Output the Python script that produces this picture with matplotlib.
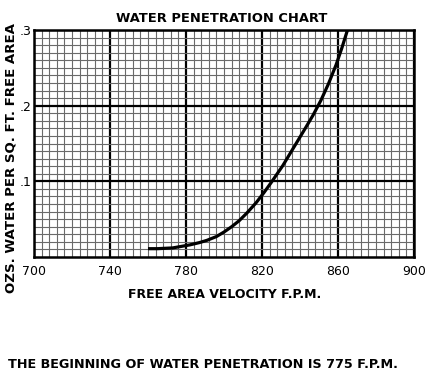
import matplotlib
matplotlib.use("Agg")
import matplotlib.pyplot as plt
import numpy as np

# Data
velocity = [760, 765, 773, 782, 787, 791, 796, 800, 804, 808, 812, 817, 821, 825, 831, 837,
            843, 847, 851, 855, 859, 862, 865]
water = [0.011, 0.011, 0.012, 0.016, 0.019, 0.022, 0.027, 0.033, 0.040, 0.048, 0.058, 0.072,
         0.085, 0.099, 0.121, 0.146, 0.171, 0.188, 0.207, 0.229, 0.254, 0.276, 0.300]

x_ticks = [700, 740, 780, 820, 860, 900]
x_tick_labels = ["700", "740", "780", "820", "860", "900"]
y_ticks = [0.1, 0.2, 0.3]
y_tick_labels = [".1", ".2", ".3"]

title = "WATER PENETRATION CHART"
xlabel = "FREE AREA VELOCITY F.P.M."
ylabel = "OZS. WATER PER SQ. FT. FREE AREA"
note = "THE BEGINNING OF WATER PENETRATION IS 775 F.P.M."

W, H = 433, 375
fig = plt.figure(figsize=(W / 100, H / 100), dpi=100)
ax = fig.add_axes([34 / W, (H - 257) / H, 380 / W, 227 / H])

ax.set_xlim(700, 900)
ax.set_ylim(0, 0.3)

# minor grid
ax.set_xticks(np.arange(700, 901, 4), minor=True)
ax.set_yticks(np.arange(0, 0.3001, 0.01), minor=True)
ax.grid(which="minor", color="#6a6a6a", linewidth=0.8)
ax.grid(which="major", color="black", linewidth=1.6)
ax.set_axisbelow(True)

ax.set_xticks(x_ticks)
ax.set_xticklabels(x_tick_labels)
ax.set_yticks(y_ticks)
ax.set_yticklabels(y_tick_labels)
ax.tick_params(which="both", length=0, labelsize=9, pad=6)
ax.tick_params(axis="y", pad=2)

for s in ax.spines.values():
    s.set_linewidth(1.8)
    s.set_color("black")

ax.plot(velocity, water, color="black", linewidth=2.3, solid_capstyle="butt",
        solid_joinstyle="round", zorder=5)

fs = dict(family="DejaVu Sans", weight="heavy")
fig.text(222 / W, 1 - 18 / H, title, ha="center", va="center", fontsize=9.4, **fs)
fig.text(225 / W, 1 - 294 / H, xlabel, ha="center", va="center", fontsize=9.0, **fs)
fig.text(11 / W, 1 - 158 / H, ylabel, ha="center", va="center", rotation=90, fontsize=9.6, **fs)
fig.text(8 / W, 1 - 364 / H, note, ha="left", va="center", fontsize=9.2, **fs)

fig.savefig("out.png", dpi=100)
